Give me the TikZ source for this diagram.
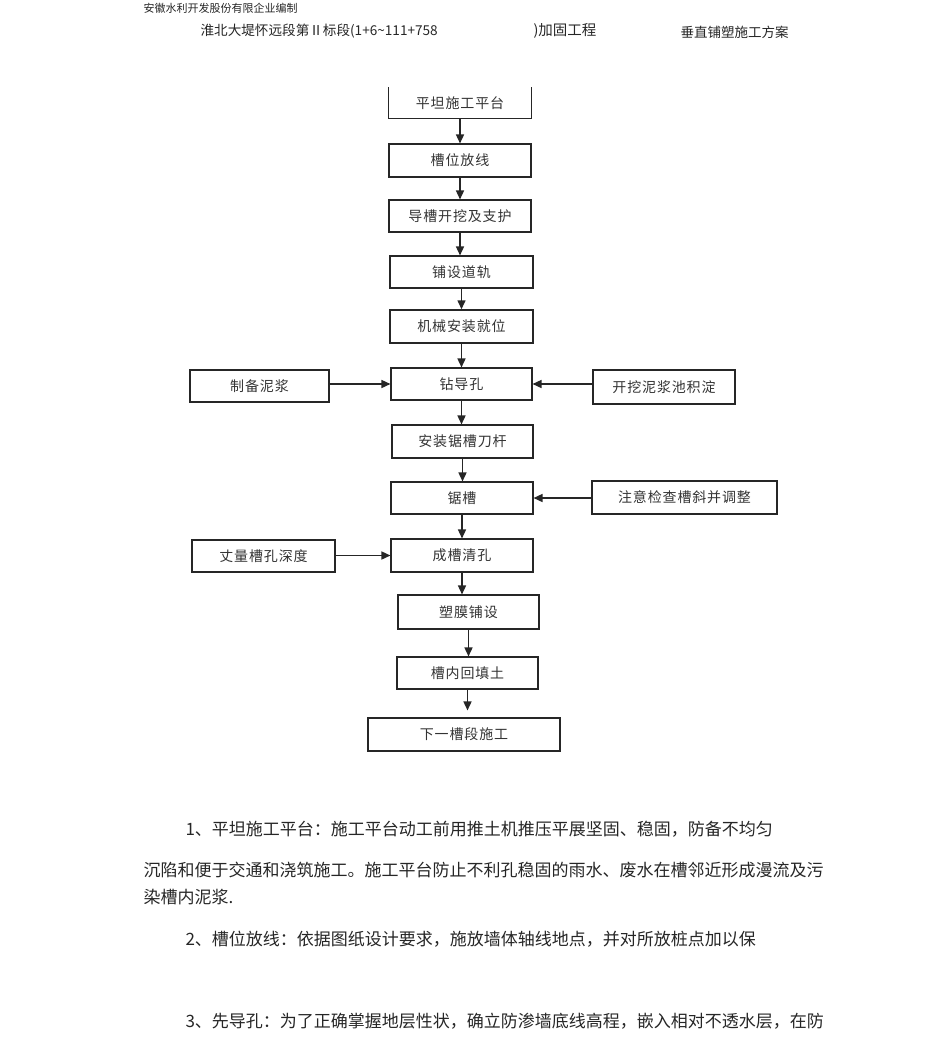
\documentclass[tikz,border=0pt]{standalone}
\usepackage{fontspec}
\newfontfamily\cjk{Noto Sans CJK SC}
\newfontfamily\cjkbox[LetterSpace=6]{Noto Sans CJK SC}
\usetikzlibrary{arrows.meta,positioning}

\begin{document}
\begin{tikzpicture}[x=1pt,y=-1pt,->,>={Triangle[length=9pt,width=8pt]},
    line width=1.1pt,draw=black!85,
    stepbox/.style={draw=black!85,minimum width=142pt,minimum height=32pt,
        inner sep=0pt,text=black!80,font=\cjkbox\fontsize{14}{16}\selectfont},
    flow/.style={line width=1.5pt},
    body/.style={anchor=west,inner sep=0pt,text=black!85,font=\cjk\fontsize{17}{20}\selectfont}]

\useasboundingbox (0,0) rectangle (950,1050);

% header
\node[anchor=west,inner sep=0pt,text=black!85,font=\cjk\fontsize{11}{13}\selectfont] (H_0) at (143,8) {安徽水利开发股份有限企业编制};
\node[anchor=west,inner sep=0pt,text=black!85,font=\cjk\fontsize{13.6}{15}\selectfont] (H_1) at (200,31) {淮北大堤怀远段第Ⅱ标段(1+6{\textasciitilde}111+758};
\node[anchor=west,inner sep=0pt,text=black!85,font=\cjk\fontsize{14.5}{16}\selectfont] (H_2) at (533,31) {)加固工程};
\node[anchor=west,inner sep=0pt,text=black!85,font=\cjk\fontsize{13.5}{15}\selectfont] (H_3) at (680,32) {垂直铺塑施工方案};

% main steps
\node[stepbox,draw=none,minimum height=30pt] (S_1) at (460,103) {平坦施工平台};
\draw[-] (S_1.north west) -- (S_1.south west) -- (S_1.south east) -- (S_1.north east);
\node[stepbox,minimum height=33pt] (S_2) at (460,160.5) {槽位放线};
\node[stepbox] (S_3) at (460,216) {导槽开挖及支护};
\node[stepbox,minimum width=143pt] (S_4) at (461.5,272) {铺设道轨};
\node[stepbox,minimum width=143pt,minimum height=33pt,line width=1.5pt] (S_5) at (461.5,326.5) {机械安装就位};
\node[stepbox,minimum width=141pt] (S_6) at (461.5,384) {钻导孔};
\node[stepbox,minimum width=141pt,minimum height=33pt] (S_7) at (462.5,441.5) {安装锯槽刀杆};
\node[stepbox] (S_8) at (462,498) {锯槽};
\node[stepbox,minimum height=33pt] (S_9) at (462,555.5) {成槽清孔};
\node[stepbox,minimum width=141pt,minimum height=34pt] (S_10) at (468.5,612) {塑膜铺设};
\node[stepbox,minimum width=141pt] (S_11) at (467.5,673) {槽内回填土};
\node[stepbox,minimum width=192pt,minimum height=33pt] (S_12) at (464,734.5) {下一槽段施工};

% side boxes
\node[stepbox,minimum width=139pt] (L_1) at (259.5,386) {制备泥浆};
\node[stepbox,minimum height=34pt] (R_1) at (664,387) {开挖泥浆池积淀};
\node[stepbox,minimum width=185pt,minimum height=33pt] (R_2) at (684.5,497.5) {注意检查槽斜并调整};
\node[stepbox,minimum width=143pt] (L_2) at (263.5,556) {丈量槽孔深度};

\foreach \a/\b in {1/2,2/3,3/4,4/5,5/6,6/7,7/8,8/9,9/10,10/11}
    \draw[flow] (S_\a.south) -- (S_\a.south |- S_\b.north);
\draw[flow,shorten >=7pt] (S_11.south) -- (S_11.south |- S_12.north);

\draw[flow] (L_1.east |- S_6) -- (S_6.west);
\draw[flow] (R_1.west |- S_6) -- (S_6.east);
\draw[flow] (R_2.west |- S_8) -- (S_8.east);
\draw[flow] (L_2.east |- S_9) -- (S_9.west);

% text below
\node[body] (T_1) at (185,829) {1、平坦施工平台：施工平台动工前用推土机推压平展坚固、稳固，防备不均匀};
\node[body] (T_2) at (143,870) {沉陷和便于交通和浇筑施工。施工平台防止不利孔稳固的雨水、废水在槽邻近形成漫流及污};
\node[body] (T_3) at (143,897) {染槽内泥浆.};
\node[body] (T_4) at (185,939) {2、槽位放线：依据图纸设计要求，施放墙体轴线地点，并对所放桩点加以保};
\node[body] (T_5) at (185,1021) {3、先导孔：为了正确掌握地层性状，确立防渗墙底线高程，嵌入相对不透水层，在防};

\end{tikzpicture}
\end{document}
